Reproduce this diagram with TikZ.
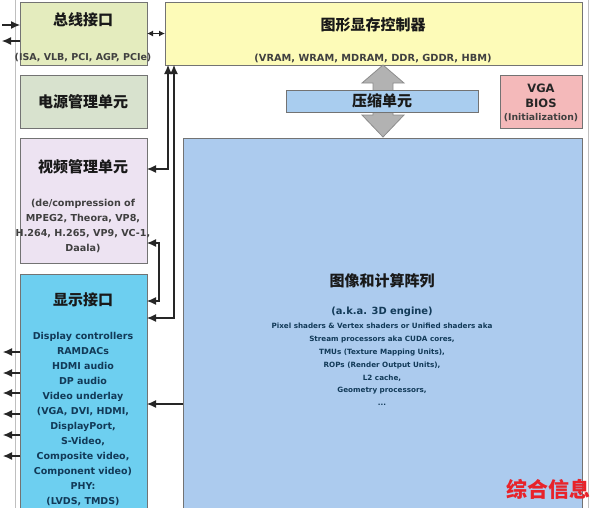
\documentclass[tikz,border=0pt]{standalone}
\usepackage{fontspec}
\setmainfont{DejaVu Sans}
\newfontfamily\cjk{Noto Sans CJK SC}
\usepackage{tikz}
\usetikzlibrary{arrows.meta}
\usetikzlibrary{calc}
\usetikzlibrary{positioning}

\definecolor{busgreen}{HTML}{E4ECBE}
\definecolor{powergreen}{HTML}{D8E2CE}
\definecolor{videolilac}{HTML}{EDE3F2}
\definecolor{dispcyan}{HTML}{6DCFF0}
\definecolor{memyellow}{HTML}{FDFBB8}
\definecolor{compblue}{HTML}{A9CDEF}
\definecolor{biospink}{HTML}{F4B9BA}
\definecolor{engineblue}{HTML}{ACCBEE}
\definecolor{disptext}{HTML}{123A58}
\definecolor{markred}{HTML}{E8232A}

\begin{document}
\begin{tikzpicture}[
	x=1pt, y=-1pt,
	box/.style = {draw=black!55, line width=0.8pt, anchor=north west, inner sep=0pt, outer sep=0pt},
	title/.style = {font=\cjk\bfseries\fontsize{15}{18}\selectfont, text=black!90},
	small/.style = {font=\bfseries\fontsize{9.5}{11}\selectfont, text=black!75, inner sep=0pt},
	lines/.style = {align=center, inner sep=0pt},
	link/.style = {line width=1.1pt, draw=black!85, >={Latex[length=9pt,width=8pt]}},
	short/.style = {>={Latex[length=6pt,width=6pt]}}
	]
	\useasboundingbox (0,0) rectangle (594,507);

	\draw[black!25, line width=0.8pt] (15,-5) -- (15,512);
	\draw[black!25, line width=0.8pt] (588,-5) -- (588,512);

	\node[box, fill=busgreen, minimum width=127pt, minimum height=63pt] (bus) at (20,2) {};
	\node[box, fill=powergreen, minimum width=127pt, minimum height=53pt] (power) at (20,75) {};
	\node[box, fill=videolilac, minimum width=127pt, minimum height=125pt] (video) at (20,138) {};
	\node[box, fill=dispcyan, minimum width=127pt, minimum height=245pt] (display) at (20,274) {};
	\node[box, fill=memyellow, minimum width=417pt, minimum height=63pt] (memctl) at (165,2) {};
	\node[box, fill=biospink, minimum width=82pt, minimum height=53pt] (bios) at (500,75) {};
	\node[box, fill=engineblue, minimum width=399pt, minimum height=380pt] (engine) at (183,138) {};

	\draw[draw=black!45, fill=black!30, line width=0.8pt] (383,65) -- (404,83) -- (393,83) -- (393,115) -- (404,115)
		-- (383,137) -- (362,115) -- (373,115) -- (373,83) -- (362,83) -- cycle;
	\node[box, fill=compblue, minimum width=192pt, minimum height=22pt] (compress) at (286,90) {};

	\node[title] (bust) at (83,20) {总线接口};
	\node[small] (buss) at (83,58) {(ISA, VLB, PCI, AGP, PCIe)};
	\node[title] (powert) at (83,102) {电源管理单元};
	\node[title] (videot) at (83,167) {视频管理单元};
	\node[lines, font=\bfseries\fontsize{9.6}{15}\selectfont, text=black!75] (videos) at (83,225.5)
		{(de/compression of\\MPEG2, Theora, VP8,\\H.264, H.265, VP9, VC-1,\\Daala)};
	\node[title] (displayt) at (83,300) {显示接口};
	\node[lines, font=\bfseries\fontsize{9.5}{15}\selectfont, text=disptext] (displays) at (83,419.5)
		{Display controllers\\RAMDACs\\HDMI audio\\DP audio\\Video underlay\\(VGA, DVI, HDMI,\\DisplayPort,\\S-Video,\\Composite video,\\Component video)\\PHY:\\(LVDS, TMDS)};
	\node[title] (memctlt) at (373,25) {图形显存控制器};
	\node[small, font=\bfseries\fontsize{9.8}{11}\selectfont] (memctls) at (373,58) {(VRAM, WRAM, MDRAM, DDR, GDDR, HBM)};
	\node[title] (compresst) at (382,101) {压缩单元};
	\node[lines, font=\bfseries\fontsize{11.5}{15}\selectfont, text=black!85] (biost) at (541,96) {VGA\\BIOS};
	\node[small, font=\bfseries\fontsize{9.3}{10}\selectfont] (bioss) at (541,118) {(Initialization)};
	\node[title] (enginet) at (382,281) {图像和计算阵列};
	\node[small, font=\bfseries\fontsize{9.9}{11}\selectfont, text=disptext] (engines) at (382,312) {(a.k.a. 3D engine)};
	\node[lines, font=\bfseries\fontsize{7.2}{12.8}\selectfont, text=disptext] (enginel) at (382,364.5)
		{Pixel shaders \& Vertex shaders or Unified shaders aka\\Stream processors aka CUDA cores,\\TMUs (Texture Mapping Units),\\ROPs (Render Output Units),\\L2 cache,\\Geometry processors,\\...};

	\node[font=\cjk\bfseries\fontsize{21}{24}\selectfont, text=markred, inner sep=0pt] (mark) at (548,489) {综合信息};

	\coordinate (busin) at (2,25);
	\coordinate (busout) at (2,41);
	\draw[link, ->] (busin) -- (bus.west |- busin);
	\draw[link, ->] (bus.west |- busout) -- (busout);
	\draw[link, short, <->] (bus) -- (memctl);

	\draw[link, <->] ([yshift=-31pt]video.north east) -| ([xshift=3pt]memctl.south west);
	\draw[link, <->] ([yshift=-44pt]display.north east) -| ([xshift=9pt]memctl.south west);
	\draw[link, <->] ([yshift=-105pt]video.north east) -- ++(12,0) |- ([yshift=-27pt]display.north east);

	\coordinate (engineout) at (183,404);
	\draw[link, ->] (engineout) -- (display.east |- engineout);

	\foreach \y [count=\i] in {352,373,393,414,435,456} {
		\coordinate (out\i) at (3,\y);
		\draw[link, ->] (display.west |- out\i) -- (out\i);
	}

\end{tikzpicture}
\end{document}
